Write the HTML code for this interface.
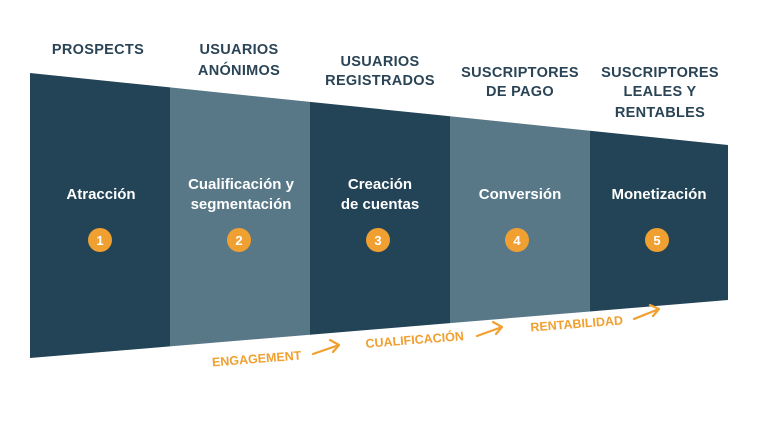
<!DOCTYPE html>
<html><head><meta charset="utf-8"><style>
html,body{margin:0;padding:0;background:#fff;}
svg{display:block;font-family:"Liberation Sans",sans-serif;font-weight:bold;}
</style></head><body>
<svg width="776" height="425" viewBox="0 0 776 425" xmlns="http://www.w3.org/2000/svg">
<polygon points="30,73 170,87.4 170,346.4 30,358" fill="#234457"/>
<polygon points="170,87.4 310,101.9 310,334.7 170,346.4" fill="#587888"/>
<polygon points="310,101.9 450,116.3 450,323.1 310,334.7" fill="#234457"/>
<polygon points="450,116.3 590,130.8 590,311.5 450,323.1" fill="#587888"/>
<polygon points="590,130.8 728,145 728,300 590,311.5" fill="#234457"/>

<g fill="#2a4456" font-size="14.5" text-anchor="middle" letter-spacing="0.3">
<text x="98" y="54">PROSPECTS</text>
<text x="239" y="54">USUARIOS</text><text x="239" y="75">ANÓNIMOS</text>
<text x="380" y="66">USUARIOS</text><text x="380" y="85">REGISTRADOS</text>
<text x="520" y="77">SUSCRIPTORES</text><text x="520" y="96">DE PAGO</text>
<text x="660" y="77">SUSCRIPTORES</text><text x="660" y="96">LEALES Y</text><text x="660" y="117">RENTABLES</text>
</g>

<g fill="#fff" font-size="15" text-anchor="middle">
<text x="101" y="199">Atracción</text>
<text x="241" y="189">Cualificación y</text><text x="241" y="209">segmentación</text>
<text x="380" y="189">Creación</text><text x="380" y="209">de cuentas</text>
<text x="520" y="199">Conversión</text>
<text x="659" y="199">Monetización</text>
</g>

<g fill="#f0a030">
<circle cx="100" cy="240" r="12"/><circle cx="239" cy="240" r="12"/><circle cx="378" cy="240" r="12"/><circle cx="517" cy="240" r="12"/><circle cx="657" cy="240" r="12"/>
</g>
<g fill="#fff" font-size="13" text-anchor="middle">
<text x="100" y="245">1</text><text x="239" y="245">2</text><text x="378" y="245">3</text><text x="517" y="245">4</text><text x="657" y="245">5</text>
</g>

<g fill="#f0a030" font-size="12.5" text-anchor="middle">
<text x="257" y="363" transform="rotate(-4.5 257 363)">ENGAGEMENT</text>
<text x="415" y="344" transform="rotate(-4.5 415 344)">CUALIFICACIÓN</text>
<text x="577" y="328" transform="rotate(-4.5 577 328)">RENTABILIDAD</text>
</g>
<g stroke="#f0a030" stroke-width="2.2" fill="none" stroke-linecap="round" stroke-linejoin="round">
<path d="M313,354 L339,345 M330,340 L339,345 L333,352"/>
<path d="M477,336 L502,327 M493,322 L502,327 L496,334"/>
<path d="M634,319 L659,309 M650,305 L659,309 L653,316"/>
</g>
</svg>
</body></html>
